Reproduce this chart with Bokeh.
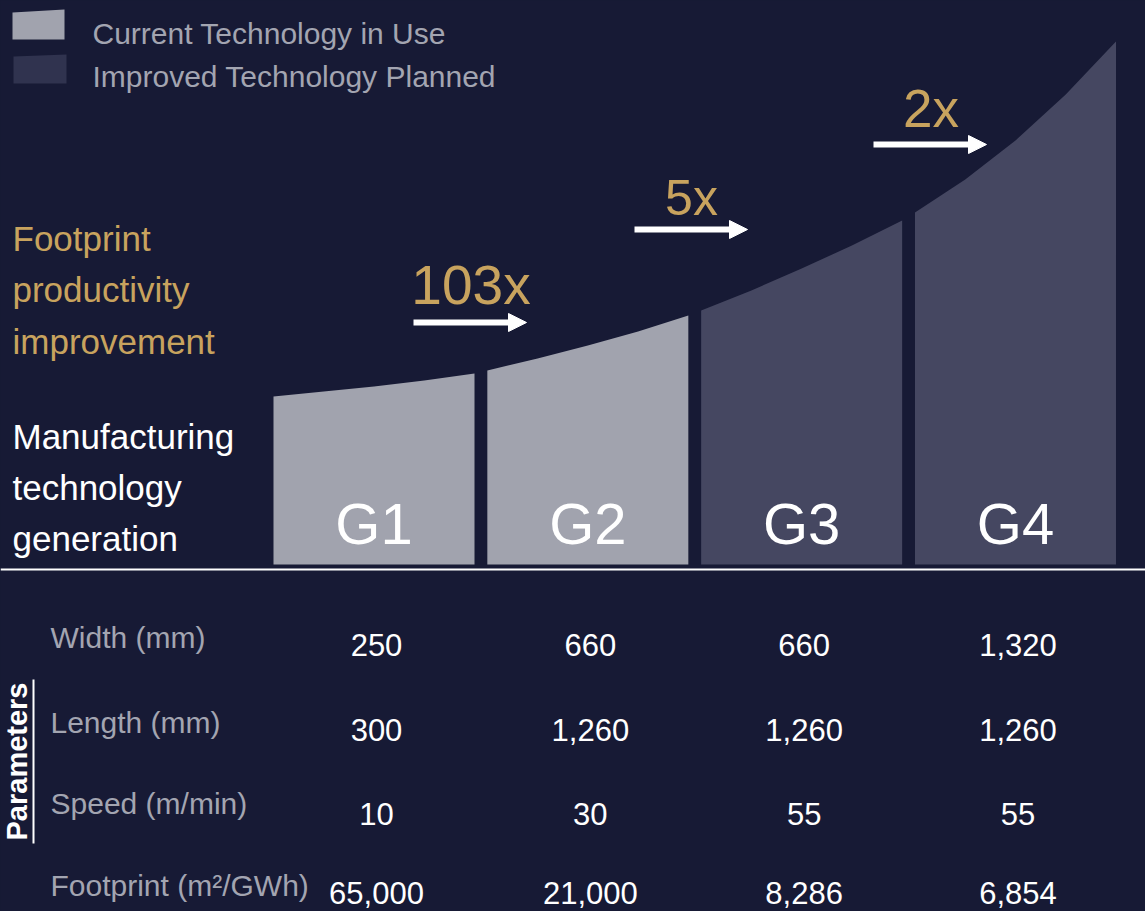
import numpy as np
from bokeh.plotting import figure
from bokeh.models import Range1d, Arrow, NormalHead, Span
from bokeh.core.properties import value
from bokeh.embed import file_html
from bokeh.resources import INLINE

# ---------------- data ----------------
generations = ["G1", "G2", "G3", "G4"]
technology = ["Current Technology in Use", "Current Technology in Use",
              "Improved Technology Planned", "Improved Technology Planned"]
legend_items = ["Current Technology in Use", "Improved Technology Planned"]
# productivity envelope (relative height of each generation's block, read left->right across the block)
envelope_g1 = [168, 173, 178, 184, 191]
envelope_g2 = [194, 206, 219, 233, 249]
envelope_g3 = [254, 274, 296, 319, 344]
envelope_g4 = [352, 385, 424, 470, 523]
multipliers = ["103x", "5x", "2x"]
param_names = ["Width (mm)", "Length (mm)", "Speed (m/min)", "Footprint (m\u00b2/GWh)"]
width_mm = [250, 660, 660, 1320]
length_mm = [300, 1260, 1260, 1260]
speed_m_min = [10, 30, 55, 55]
footprint_m2_gwh = [65000, 21000, 8286, 6854]

# ---------------- styles / layout ----------------
BG = "#171a35"
LIGHT = "#a1a3ae"
DARK = "#454761"
DARK_SW = "#30334f"
GOLD = "#c8a35e"
GREY = "#a3a5b1"
FONT = value("Liberation Sans")

W, H = 1145, 911
PX = 213.83   # pixels per generation step
X0 = 373.5    # pixel centre of first generation block
BASE = 564    # pixel row of block bottoms
BL = 0.35     # anchor-to-baseline correction (fraction of font size)


def rx(px):
    return (px - X0) / PX


def ry(py):
    return BASE - py


def by(baseline_px, size):
    return ry(baseline_px - BL * size)


p = figure(width=W, height=H,
           x_range=Range1d(rx(0), rx(W)), y_range=Range1d(ry(H), ry(0)),
           output_backend="svg", toolbar_location=None,
           x_axis_location=None, y_axis_location=None, min_border=0,
           background_fill_color=BG, border_fill_color=BG, outline_line_color=None)
p.grid.grid_line_color = None

try:
    from bokeh.models import GlobalInlineStyleSheet
    p.stylesheets = [GlobalInlineStyleSheet(css="body { background-color: #171a35; }")]
except Exception:
    pass

# ---- blocks ----
envelopes = [envelope_g1, envelope_g2, envelope_g3, envelope_g4]
half = 100.5 / PX
xs, ys, cols = [], [], []
for i, (env, tech) in enumerate(zip(envelopes, technology)):
    top_x = list(i + np.linspace(-half, half, len(env)))
    xs.append(top_x + [i + half, i - half])
    ys.append(list(env) + [0, 0])
    cols.append(LIGHT if tech == legend_items[0] else DARK)
p.patches(xs, ys, fill_color=cols, line_color=None)

G_SIZE = 58
idx = list(range(len(generations)))
p.text(x=idx, y=[by(543, G_SIZE)] * 4, text=generations, text_font=FONT,
       text_font_size=f"{G_SIZE}px",
       text_color="white", text_align="center", text_baseline="alphabetic")

# baseline rule
p.add_layout(Span(location=ry(569), dimension="width", line_color="white", line_width=2))

# ---- multipliers & arrows ----
arrow_x = [(413, 526), (634, 747), (873, 986)]
arrow_y = [322, 229, 144]
mult_x = [470.5, 691, 930.5]
mult_y = [304, 215, 127]
mult_size = [55, 50, 53]
for (a0, a1), ay in zip(arrow_x, arrow_y):
    p.add_layout(Arrow(end=NormalHead(size=18, fill_color="white", line_color="white", line_width=1),
                       x_start=rx(a0), y_start=ry(ay), x_end=rx(a1), y_end=ry(ay),
                       line_color="white", line_width=6))
p.text(x=[rx(v) for v in mult_x], y=[by(v, s) for v, s in zip(mult_y, mult_size)], text=multipliers,
       text_font=FONT, text_font_size=[f"{s}px" for s in mult_size], text_color=GOLD,
       text_align="center", text_baseline="alphabetic")

# ---- left titles ----
p.text(x=[rx(12)] * 3, y=[by(250, 35), by(301, 35), by(353, 35)],
       text=["Footprint", "productivity", "improvement"],
       text_font=FONT, text_font_size="35px", text_color=GOLD,
       text_align="left", text_baseline="alphabetic")
p.text(x=[rx(12)] * 3, y=[by(448, 35), by(499, 35), by(550, 35)],
       text=["Manufacturing", "technology", "generation"],
       text_font=FONT, text_font_size="35px", text_color="white",
       text_align="left", text_baseline="alphabetic")

# ---- legend ----
p.patches([[rx(12), rx(64), rx(64), rx(12)], [rx(13), rx(66), rx(66), rx(13)]],
          [[ry(12), ry(9), ry(39), ry(39)], [ry(56), ry(54), ry(83), ry(83)]],
          fill_color=[LIGHT, DARK_SW], line_color=None)
p.text(x=[rx(92)] * 2, y=[by(43, 30), by(86, 30)], text=legend_items,
       text_font=FONT, text_font_size="30px", text_color=GREY,
       text_align="left", text_baseline="alphabetic")

# ---- parameters table ----
label_base = [647, 732, 813, 895]
value_base = [655, 740, 824, 903]
p.text(x=[rx(50)] * 4, y=[by(v, 30) for v in label_base], text=param_names,
       text_font=FONT, text_font_size="30px", text_color=GREY,
       text_align="left", text_baseline="alphabetic")
rows = [width_mm, length_mm, speed_m_min, footprint_m2_gwh]
vx, vy, vt = [], [], []
for r, row in enumerate(rows):
    for i, v in enumerate(row):
        vx.append(i + 2.5 / PX)
        vy.append(by(value_base[r], 31))
        vt.append(f"{v:,}")
p.text(x=vx, y=vy, text=vt, text_font=FONT, text_font_size="31px", text_color="white",
       text_align="center", text_baseline="alphabetic")

p.text(x=[rx(27 - BL * 29)], y=[ry(761)], text=["Parameters"], angle=np.pi / 2,
       text_font=FONT, text_font_style="bold", text_font_size="29px", text_color="white",
       text_align="center", text_baseline="alphabetic")
p.segment(x0=[rx(33)], y0=[ry(679)], x1=[rx(33)], y1=[ry(843)], line_color="white", line_width=2)

open("out.html", "w").write(file_html(p, INLINE))
